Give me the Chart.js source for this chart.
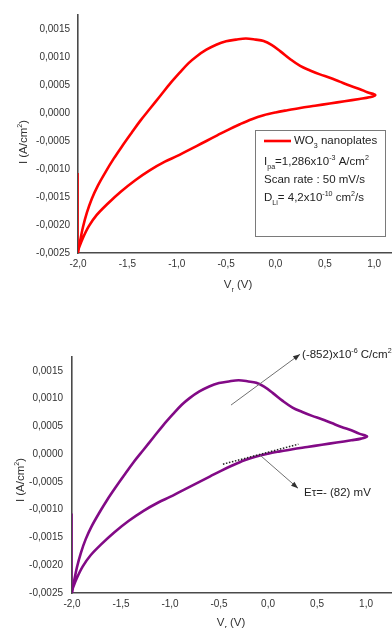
<!DOCTYPE html>
<html><head><meta charset="utf-8">
<script src="https://cdn.jsdelivr.net/npm/chart.js@4/dist/chart.umd.min.js"></script>
<style>
html,body{margin:0;padding:0;background:#fff;width:392px;height:628px;overflow:hidden}
canvas{position:absolute;left:0}
#c1{top:0}
#c2{top:320px}
</style></head><body>
<canvas id="c1" width="392" height="300"></canvas>
<canvas id="c2" width="392" height="308"></canvas>
<script>
// Potential (V) and current density (A/cm2) of the CV loop: anodic branch then return branch
const potential = [-2.00,-1.98,-1.95,-1.91,-1.86,-1.80,-1.72,-1.64,-1.56,-1.46,-1.37,-1.27,-1.17,-1.07,-0.97,-0.88,-0.80,-0.70,-0.60,-0.50,-0.40,-0.30,-0.20,-0.12,-0.04,0.05,0.15,0.25,0.35,0.45,0.55,0.65,0.75,0.85,0.93,1.01,
  0.95,0.85,0.70,0.55,0.40,0.25,0.12,0.00,-0.12,-0.24,-0.36,-0.48,-0.59,-0.70,-0.80,-0.90,-1.00,-1.12,-1.27,-1.42,-1.57,-1.70,-1.81,-1.89,-1.95,-2.00];
const current = [-0.00250,-0.00230,-0.00204,-0.00178,-0.00153,-0.00130,-0.00105,-0.00082,-0.00061,-0.00036,-0.00014,0.00008,0.00030,0.00052,0.00072,0.00089,0.00101,0.00113,0.00122,0.00128,0.00131,0.00133,0.00131,0.001285,0.001215,0.00110,0.00096,0.00084,0.00076,0.00069,0.00063,0.00056,0.00049,0.00043,0.00037,0.00032,
  0.00028,0.00025,0.00021,0.00017,0.00013,0.00009,0.00005,0.00001,-0.00004,-0.00011,-0.00020,-0.00030,-0.00040,-0.00050,-0.00059,-0.00068,-0.00077,-0.00087,-0.00102,-0.00120,-0.00141,-0.00162,-0.00182,-0.00202,-0.00223,-0.00245];
// initial potential step at -2 V
const stepV = [-2.0,-2.0];
const stepI = [-0.00107,-0.00250];
const xTicks = [-2.0,-1.5,-1.0,-0.5,0.0,0.5,1.0];
const yTicks = [-0.0025,-0.0020,-0.0015,-0.0010,-0.0005,0.0000,0.0005,0.0010,0.0015];
// tangent line (data coordinates)
const tangentV = [-0.46,0.31];
const tangentI = [-0.00018,0.00018];

const FONT = '"Liberation Sans", Arial, sans-serif';
const pts = (xs, ys) => xs.map((x,i)=>({x, y: ys[i]}));
const fmt = (v, d) => { let s = Math.abs(v) < 1e-12 ? (0).toFixed(d) : v.toFixed(d); return s.replace('.', ','); };

function richWidth(ctx, parts, size){
  let w = 0;
  for (const p of parts){ ctx.font = (p.s ? size*0.62 : size) + 'px ' + FONT; w += ctx.measureText(p.t).width; }
  return w;
}
function drawRich(ctx, parts, x, y, size, color){
  ctx.save(); ctx.fillStyle = color || '#222'; ctx.textBaseline = 'middle'; ctx.textAlign = 'left';
  for (const p of parts){
    ctx.font = (p.s ? size*0.62 : size) + 'px ' + FONT;
    const dy = p.s === 1 ? -size*0.38 : (p.s === -1 ? size*0.4 : 0);
    ctx.fillText(p.t, x, y + dy);
    x += ctx.measureText(p.t).width;
  }
  ctx.restore();
  return x;
}
function arrow(ctx, x1, y1, x2, y2){
  ctx.save(); ctx.strokeStyle = '#707070'; ctx.fillStyle = '#303030'; ctx.lineWidth = 1;
  ctx.beginPath(); ctx.moveTo(x1,y1); ctx.lineTo(x2,y2); ctx.stroke();
  const a = Math.atan2(y2-y1, x2-x1), L = 7, W = 2.6;
  ctx.beginPath(); ctx.moveTo(x2,y2);
  ctx.lineTo(x2 - L*Math.cos(a) + W*Math.sin(a), y2 - L*Math.sin(a) - W*Math.cos(a));
  ctx.lineTo(x2 - L*Math.cos(a) - W*Math.sin(a), y2 - L*Math.sin(a) + W*Math.cos(a));
  ctx.closePath(); ctx.fill(); ctx.restore();
}

function makeChart(id, color, xMax, area, h, extra){
  const titles = {
    id: 'titles',
    afterDraw(chart){
      const ctx = chart.ctx;
      const yp = [{t:'I (A/cm'},{t:'2',s:1},{t:')'}];
      ctx.save(); ctx.translate(area.yTitleX, area.yTitleY); ctx.rotate(-Math.PI/2);
      const w = richWidth(ctx, yp, 11.5);
      drawRich(ctx, yp, -w/2, 0, 11.5, '#333');
      ctx.restore();
      const xp = [{t:'V'},{t:'r',s:-1},{t:' (V)'}];
      const wx = richWidth(ctx, xp, 11.5);
      drawRich(ctx, xp, area.xTitleX - wx/2, area.xTitleY, 11.5, '#333');
      if (extra) extra(chart);
    }
  };
  return new Chart(document.getElementById(id), {
    type: 'scatter',
    data: { datasets: [
      { data: pts(stepV, stepI), showLine: true, borderColor: color, borderWidth: 1.6, pointRadius: 0, tension: 0 },
      { data: pts(potential, current), showLine: true, borderColor: color, borderWidth: 2.6, pointRadius: 0, tension: 0.35, borderJoinStyle: 'round', borderCapStyle: 'round' }
    ]},
    options: {
      responsive: false, devicePixelRatio: 1, animation: false,
      layout: { padding: { top: area.top, left: 0, right: 0, bottom: 0 } },
      plugins: { legend: { display: false }, tooltip: { enabled: false } },
      scales: {
        x: { type: 'linear', min: -2.0, max: xMax,
          afterBuildTicks: s => { s.ticks = xTicks.map(v => ({value: v})); },
          afterFit: s => { s.height = h - area.bottom; },
          grid: { display: false, drawTicks: false }, border: { color: '#4a4a4a', width: 1.6 },
          ticks: { font: { family: FONT, size: 10 }, color: '#333', padding: 5, maxRotation: 0, autoSkip: false,
            callback: v => fmt(v, 1) } },
        y: { type: 'linear', min: -0.0025, max: 0.00175,
          afterBuildTicks: s => { s.ticks = yTicks.map(v => ({value: v})); },
          afterFit: s => { s.width = area.left; },
          grid: { display: false, drawTicks: false }, border: { color: '#4a4a4a', width: 1.6 },
          ticks: { font: { family: FONT, size: 10 }, color: '#333', padding: area.ypad, autoSkip: false,
            callback: v => fmt(v, 4) } }
      }
    },
    plugins: [titles]
  });
}

// top chart with legend box
makeChart('c1', '#ff0000', 1.18, {top: 15, left: 78, bottom: 253, ypad: 8, yTitleX: 24, yTitleY: 142, xTitleX: 238, xTitleY: 285}, 300, chart => {
  const ctx = chart.ctx;
  ctx.save();
  ctx.fillStyle = '#fff'; ctx.fillRect(255.5, 130.5, 130, 106);
  ctx.strokeStyle = '#7a7a7a'; ctx.lineWidth = 1; ctx.strokeRect(255.5, 130.5, 130, 106);
  ctx.strokeStyle = '#ff0000'; ctx.lineWidth = 2.6;
  ctx.beginPath(); ctx.moveTo(264, 141); ctx.lineTo(291, 141); ctx.stroke();
  ctx.restore();
  const S = 11.5;
  drawRich(ctx, [{t:'WO'},{t:'3',s:-1},{t:' nanoplates'}], 294, 141, S);
  drawRich(ctx, [{t:'I'},{t:'pa',s:-1},{t:'=1,286x10'},{t:'-3',s:1},{t:' A/cm'},{t:'2',s:1}], 264, 162, S);
  drawRich(ctx, [{t:'Scan rate : 50 mV/s'}], 264, 180, S);
  drawRich(ctx, [{t:'D'},{t:'Li',s:-1},{t:'= 4,2x10'},{t:'-10',s:1},{t:' cm'},{t:'2',s:1},{t:'/s'}], 264, 198, S);
});

// bottom chart with annotations
makeChart('c2', '#820a86', 1.265, {top: 37, left: 72, bottom: 273, ypad: 9, yTitleX: 21, yTitleY: 160, xTitleX: 231, xTitleY: 303}, 308, chart => {
  const ctx = chart.ctx, xs = chart.scales.x, ys = chart.scales.y;
  const P = (v, i) => [xs.getPixelForValue(v), ys.getPixelForValue(i)];
  const a = P(tangentV[0], tangentI[0]), b = P(tangentV[1], tangentI[1]);
  ctx.save(); ctx.strokeStyle = '#222'; ctx.lineWidth = 1.5; ctx.setLineDash([1.5, 1.6]);
  ctx.beginPath(); ctx.moveTo(a[0], a[1]); ctx.lineTo(b[0], b[1]); ctx.stroke(); ctx.restore();
  const c1 = P(-0.378, 0.000884), c2 = P(0.327, 0.00180);
  arrow(ctx, c1[0], c1[1], c2[0], c2[1]);
  drawRich(ctx, [{t:'(-852)x10'},{t:'-6',s:1},{t:' C/cm'},{t:'2',s:1}], c2[0] + 2, c2[1] + 1, 11.5);
  const e1 = P(-0.08, -0.00002), e2 = P(0.306, -0.000614);
  arrow(ctx, e1[0], e1[1], e2[0], e2[1]);
  drawRich(ctx, [{t:'E\u03C4=- (82) mV'}], e2[0] + 6, e2[1] + 5, 11.5);
});
</script>
</body></html>
